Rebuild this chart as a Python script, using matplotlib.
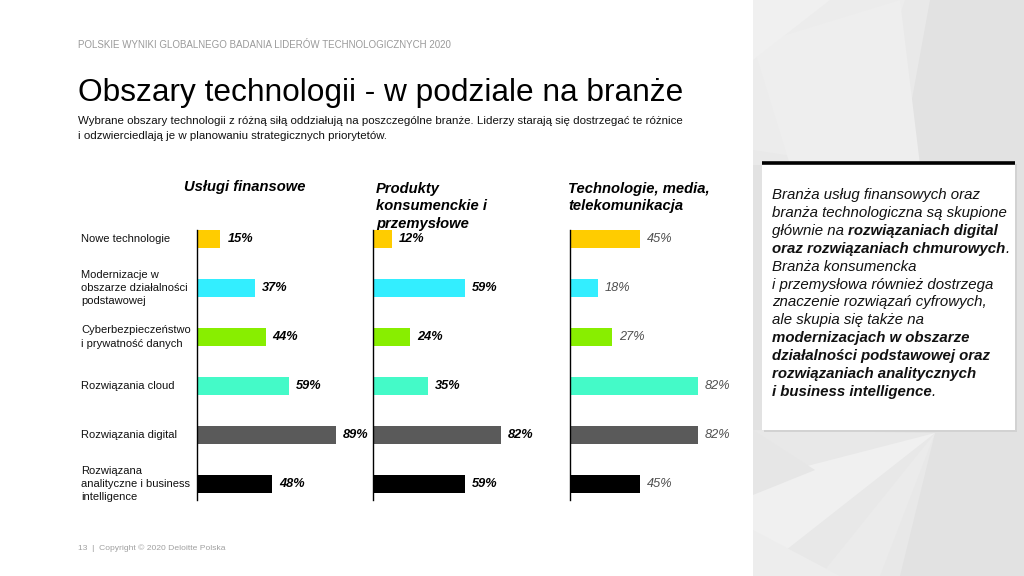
import matplotlib
matplotlib.use("Agg")
import matplotlib.pyplot as plt
from matplotlib.patches import Rectangle, Polygon
from matplotlib.transforms import blended_transform_factory

plt.rcParams['font.family'] = ['Liberation Sans', 'DejaVu Sans']

# ---------------- data ----------------
categories = [
    "Nowe technologie",
    "Modernizacje w\nobszarze działalności\npodstawowej",
    "Cyberbezpieczeństwo\ni prywatność danych",
    "Rozwiązania cloud",
    "Rozwiązania digital",
    "Rozwiązana\nanalityczne i business\nintelligence",
]
bar_colors = ["#FFCC00", "#33EEFF", "#88EE00", "#44FAC8", "#5A5A5A", "#000000"]

panel_titles = ["Usługi finansowe",
                "Produkty\nkonsumenckie i\nprzemysłowe",
                "Technologie, media,\ntelekomunikacja"]
fin_values = [15, 37, 44, 59, 89, 48]
cons_values = [12, 59, 24, 35, 82, 59]
tmt_values = [45, 18, 27, 82, 82, 45]

header = "POLSKIE WYNIKI GLOBALNEGO BADANIA LIDERÓW TECHNOLOGICZNYCH 2020"
title = "Obszary technologii - w podziale na branże"
subtitle_lines = ["Wybrane obszary technologii z różną siłą oddziałują na poszczególne branże. "
                  "Liderzy starają się dostrzegać te różnice",
                  "i odzwierciedlają je w planowaniu strategicznych priorytetów."]
footer = "13  |  Copyright © 2020 Deloitte Polska"

# right box: list of lines, each a list of (text, bold) segments
box_lines = [
    [("Branża usług finansowych oraz", False)],
    [("branża technologiczna są skupione", False)],
    [("głównie na", False), ("rozwiązaniach digital", True)],
    [("oraz rozwiązaniach chmurowych", True), (".", False)],
    [("Branża konsumencka", False)],
    [("i przemysłowa również dostrzega", False)],
    [("znaczenie rozwiązań cyfrowych,", False)],
    [("ale skupia się także na", False)],
    [("modernizacjach w obszarze", True)],
    [("działalności podstawowej oraz", True)],
    [("rozwiązaniach analitycznych", True)],
    [("i business intelligence", True), (".", False)],
]

# ---------------- figure ----------------
W, H = 1024, 576
fig = plt.figure(figsize=(W / 100, H / 100), dpi=100)
fig.patch.set_facecolor("white")

bg = fig.add_axes([0, 0, 1, 1], zorder=0)
bg.set_xlim(0, W)
bg.set_ylim(H, 0)
bg.axis("off")

# right decorative panel (soft low-poly pattern)
bg.add_patch(Rectangle((753, 0), W - 753, H, color="#e2e2e2", lw=0))
polys = [
    ([(753, 0), (930, 0), (900, 165), (753, 165)], "#e9e9e9"),
    ([(753, 0), (905, 0), (850, 165), (753, 150)], "#ececec"),
    ([(753, 45), (900, 0), (920, 165), (790, 165)], "#eeeeee"),
    ([(753, 0), (830, 0), (753, 60)], "#f0f0f0"),
    ([(753, 430), (935, 433), (900, 576), (753, 576)], "#e8e8e8"),
    ([(753, 480), (935, 433), (753, 576)], "#f0f0f0"),
    ([(753, 430), (815, 470), (753, 495)], "#e6e6e6"),
    ([(820, 576), (935, 433), (880, 576)], "#ebebeb"),
    ([(753, 530), (840, 576), (753, 576)], "#ededed"),
]
for pts, c in polys:
    bg.add_patch(Polygon(pts, closed=True, color=c, lw=0))

# white box with shadow
bg.add_patch(Rectangle((764, 164), 253, 268, color="#d2d2d2", lw=0))
bg.add_patch(Rectangle((762, 162), 253, 268, color="white", lw=0))
bg.plot([762, 1015], [163, 163], color="black", lw=2.6, solid_capstyle="butt")

# header / title / subtitle / footer
bg.text(78, 45, header, fontsize=7.0, color="#9a9a9a", va="center", ha="left")
bg.text(78, 101, title, fontsize=22.8, color="black", va="baseline", ha="left")
for k, line in enumerate(subtitle_lines):
    bg.text(78, 121 + 15 * k, line, fontsize=8.25, color="#111111",
            va="center", ha="left")
bg.text(78, 548, footer, fontsize=6.1, color="#a0a0a0", va="center", ha="left")

# ---------------- bar panels ----------------
px_per_pct = 1.56
ax_top, ax_bot = 230, 500
lefts = [197, 373, 570]
all_values = [fin_values, cons_values, tmt_values]
label_styles = [dict(color="black", fontweight="bold", fontstyle="italic"),
                dict(color="black", fontweight="bold", fontstyle="italic"),
                dict(color="#505050", fontweight="normal", fontstyle="italic")]

axes = []
for left, vals, lst in zip(lefts, all_values, label_styles):
    ax = fig.add_axes([left / W, (H - ax_bot) / H, 100 * px_per_pct / W,
                       (ax_bot - ax_top) / H], zorder=2)
    ax.patch.set_alpha(0)
    y = list(range(len(vals)))
    ax.barh(y, vals, height=0.36, color=bar_colors, lw=0)
    ax.set_xlim(0, 100)
    ax.set_ylim(len(vals) - 1 + 0.32, -0.18)
    for s in ["top", "right", "bottom"]:
        ax.spines[s].set_visible(False)
    ax.spines["left"].set_color("black")
    ax.spines["left"].set_linewidth(1.0)
    ax.set_xticks([])
    ax.set_yticks([])
    for yi, v in zip(y, vals):
        ax.annotate(f"{v}%", xy=(v, yi), xytext=(7, 0), textcoords="offset pixels",
                    ha="left", va="center", fontsize=9.2, annotation_clip=False, **lst)
    axes.append(ax)

# category labels aligned to the first panel's rows
trans = blended_transform_factory(bg.transData, axes[0].transData)
for i, cat in enumerate(categories):
    axes[0].text(81, i, cat, transform=trans, ha="left", va="center",
                 fontsize=8, color="#111111", linespacing=1.4)

# panel titles
bg.text(245, 187, panel_titles[0], fontsize=10.6, fontweight="bold", fontstyle="italic",
        ha="center", va="center")
bg.text(376, 182, panel_titles[1], fontsize=10.6, fontweight="bold", fontstyle="italic",
        ha="left", va="top", linespacing=1.3)
bg.text(568, 182, panel_titles[2], fontsize=10.6, fontweight="bold", fontstyle="italic",
        ha="left", va="top", linespacing=1.3)

# ---------------- right box text ----------------
renderer = fig.canvas.get_renderer()
fs = 10.8
x0, base0, step = 772, 199, 17.9


def width_of(s, bold):
    t = bg.text(0, 0, s, fontsize=fs, fontstyle="italic",
                fontweight="bold" if bold else "normal")
    w = t.get_window_extent(renderer=renderer).width
    t.remove()
    return w


for li, segs in enumerate(box_lines):
    x = x0
    yb = base0 + li * step
    for si, (s, bold) in enumerate(segs):
        t = bg.text(x, yb, s, fontsize=fs, fontstyle="italic",
                    fontweight="bold" if bold else "normal",
                    color="#111111", ha="left", va="baseline")
        w = t.get_window_extent(renderer=renderer).width
        x += w
        if si + 1 < len(segs) and segs[si + 1][0] != ".":
            x += width_of("x x", bold) - width_of("xx", bold)

fig.savefig("out.png", dpi=100)
